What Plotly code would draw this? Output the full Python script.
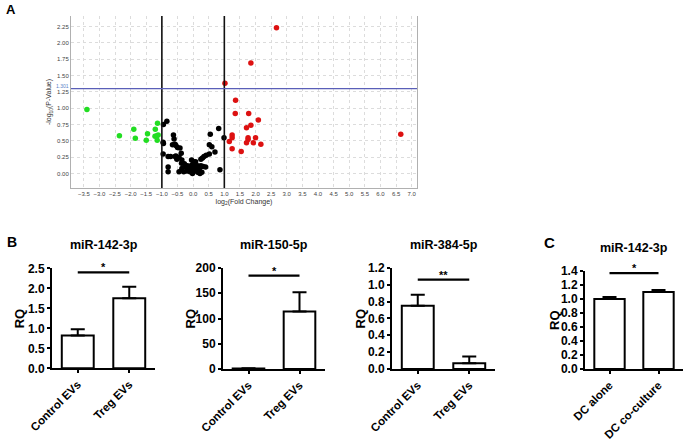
import plotly.graph_objects as go

W, H = 685, 440

# ---------------- Panel A: volcano data ----------------
up_x = [2.67, 1.85, 1.02, 1.36, 1.35, 1.78, 2.09, 1.85, 1.71, 1.25, 1.25, 1.16, 1.76, 2.00,
        1.76, 1.71, 1.93, 2.17, 1.25, 1.54, 6.65]
up_y = [2.23, 1.69, 1.38, 1.12, 0.92, 0.92, 0.82, 0.74, 0.70, 0.59, 0.55, 0.49, 0.55, 0.55,
        0.52, 0.47, 0.47, 0.45, 0.38, 0.34, 0.60]
down_x = [-3.40, -2.36, -1.90, -1.85, -1.46, -1.50, -1.21, -1.14, -1.22, -1.16, -1.12, -1.15]
down_y = [0.98, 0.58, 0.68, 0.54, 0.61, 0.51, 0.68, 0.77, 0.57, 0.58, 0.59, 0.51]
ns_x = [-0.95, -0.84, -0.96, -0.95, -0.96, -0.80, -0.80, -0.80, -0.63, -0.61, -0.66, -0.58,
        -0.55, -0.50, -0.42, -0.72, -0.58, -0.52, -0.55, -0.45, -0.38, -0.36, -0.37, -0.36,
        -0.45, -0.25, -0.20, -0.18, -0.15, -0.12, -0.10, -0.08, -0.05, -0.04, -0.02, 0.00,
        0.02, 0.02, 0.05, 0.05, 0.07, 0.08, 0.10, 0.12, 0.15, 0.15, 0.20, 0.18, 0.22, 0.25,
        0.25, 0.28, 0.30, 0.32, 0.35, 0.42, 0.40, 0.52, 0.60, 0.55, 0.52, 0.70, 0.82, 0.86,
        0.99, -0.02, -0.30, -0.28]
ns_y = [0.75, 0.80, 0.48, 0.46, 0.30, 0.26, 0.10, 0.03, 0.59, 0.53, 0.44, 0.45,
        0.43, 0.40, 0.39, 0.26, 0.26, 0.22, 0.27, 0.25, 0.31, 0.21, 0.16, 0.08,
        0.03, 0.11, 0.04, 0.12, 0.07, 0.10, 0.03, 0.05, 0.21, 0.13, 0.08, 0.11,
        0.18, 0.05, 0.13, 0.04, 0.09, 0.18, 0.10, 0.06, 0.12, 0.02, 0.08, 0.02, 0.00, 0.12,
        0.22, 0.02, 0.24, 0.11, 0.26, 0.28, 0.10, 0.44, 0.41, 0.60, 0.30, 0.33, 0.69, 0.06,
        0.55, 0.00, 0.03, 0.15]
fc_cut = [-1.0, 1.0]
p_cut = 1.301
x_ticks_volcano = [-3.5, -3.0, -2.5, -2.0, -1.5, -1.0, -0.5, 0.0, 0.5, 1.0, 1.5, 2.0, 2.5,
                   3.0, 3.5, 4.0, 4.5, 5.0, 5.5, 6.0, 6.5, 7.0]
y_ticks_volcano = [0.0, 0.25, 0.5, 0.75, 1.0, 1.25, 1.5, 1.75, 2.0, 2.25]

# ---------------- Panels B and C: bar data ----------------
b_categories = ["Control EVs", "Treg EVs"]
c_categories = ["DC alone", "DC co-culture"]
rq_142 = [0.82, 1.75]
err_142 = [0.155, 0.29]
rq_150 = [1.0, 114.0]
err_150 = [0.3, 38.0]
rq_384 = [0.75, 0.067]
err_384 = [0.13, 0.08]
rq_c142 = [1.0, 1.10]
err_c142 = [0.03, 0.03]
bar_titles = ["miR-142-3p", "miR-150-5p", "miR-384-5p", "miR-142-3p"]
y_max = [2.5, 200, 1.2, 1.4]
y_step = [0.5, 50, 0.2, 0.2]
y_fmt = [".1f", "d", ".1f", ".1f"]
sig_levels = [2.4, 185, 1.06, 1.37]
sig_marks = ["*", "*", "**", "*"]


def px(x0, x1):
    return [x0 / W, x1 / W]


def py(top, bottom):
    return [1 - bottom / H, 1 - top / H]


def label(text, x, y, size, **kw):
    d = dict(text=text, x=x / W, y=1 - y / H, xref="paper", yref="paper", showarrow=False,
             xanchor="center", yanchor="middle",
             font=dict(family="Liberation Sans, Arial", size=size, color="black"))
    d.update(kw)
    return d


fig = go.Figure()

# Volcano
fig.add_trace(go.Scatter(x=ns_x, y=ns_y, mode="markers", xaxis="x", yaxis="y",
                         marker=dict(color="#000000", size=5.5), showlegend=False))
fig.add_trace(go.Scatter(x=down_x, y=down_y, mode="markers", xaxis="x", yaxis="y",
                         marker=dict(color="#22dd22", size=5.5), showlegend=False))
fig.add_trace(go.Scatter(x=up_x, y=up_y, mode="markers", xaxis="x", yaxis="y",
                         marker=dict(color="#dd1111", size=5.5), showlegend=False))

vol_font = dict(family="Liberation Sans, Arial", size=6, color="#444444")
layout = dict(
    width=W, height=H, margin=dict(l=0, r=0, t=0, b=0, autoexpand=False),
    paper_bgcolor="white", plot_bgcolor="white", showlegend=False,
    xaxis=dict(domain=px(71, 417), range=[-3.91, 7.17], tickvals=x_ticks_volcano,
               tickformat=".1f", showgrid=True, gridcolor="#dcdcdc", gridwidth=1, griddash="dot",
               zeroline=False, showline=True, linecolor="#b0b0b0", linewidth=1,
               ticks="", tickfont=vol_font, anchor="y", automargin=False,
               title=dict(text="log<sub>2</sub>(Fold Change)", font=dict(family="Liberation Sans, Arial", size=7, color="#333"), standoff=2)),
    yaxis=dict(domain=py(16, 188), range=[-0.22, 2.41], tickvals=y_ticks_volcano,
               tickformat=".2f", showgrid=True, gridcolor="#dcdcdc", gridwidth=1, griddash="dot",
               zeroline=False, showline=True, linecolor="#b0b0b0", linewidth=1,
               mirror=True, ticks="", tickfont=vol_font, anchor="x", automargin=False,
               title=dict(text="-log<sub>10</sub>(P-Value)", font=dict(family="Liberation Sans, Arial", size=7, color="#333"), standoff=4)),
)

shapes = []
for xc in fc_cut:
    shapes.append(dict(type="line", xref="x", yref="y domain", x0=xc, x1=xc, y0=0, y1=1,
                       line=dict(color="#111111", width=1.6)))
shapes.append(dict(type="line", xref="x domain", yref="y", x0=0, x1=1, y0=p_cut, y1=p_cut,
                   line=dict(color="#5a5fb8", width=1.2)))

annotations = [
    label("<b>A</b>", 11, 9, 13),
    dict(text="1.301", x=71 / W, y=p_cut, xref="paper", yref="y", xanchor="right", yanchor="bottom",
         showarrow=False, yshift=-2, font=dict(family="Liberation Sans, Arial", size=5, color="#5a7fc8")),
    label("<b>B</b>", 12, 242, 14),
    label("<b>C</b>", 549, 242, 15),
]

panels = [
    (b_categories, rq_142, err_142, (52, 155), (268.3, 368.3), 19, 245),
    (b_categories, rq_150, err_150, (223, 325), (268, 369), 190, 245),
    (b_categories, rq_384, err_384, (392, 495), (267.8, 369), 360, 245),
    (c_categories, rq_c142, err_c142, (585, 683), (271, 369), 554, 248),
]

ytick_font = dict(family="Liberation Sans, Arial", size=12, color="black", weight="bold")
xtick_font = dict(family="Liberation Sans, Arial", size=11.5, color="black", weight="bold")
for i, (cats, vals, errs, (x0, x1), (t, b), rq_x, title_y) in enumerate(panels):
    k = i + 2
    xa, ya = f"x{k}", f"y{k}"
    fig.add_trace(go.Bar(x=cats, y=vals, xaxis=xa, yaxis=ya, width=0.62,
                         marker=dict(color="white", line=dict(color="black", width=2)),
                         error_y=dict(type="data", array=errs, arrayminus=[0] * len(errs),
                                      symmetric=False, color="black", thickness=2, width=7),
                         showlegend=False))
    layout[f"xaxis{k}"] = dict(domain=px(x0, x1), range=[-0.5, 1.5], anchor=ya, automargin=False,
                               showline=True, linecolor="black", linewidth=2,
                               ticks="outside", ticklen=3, tickwidth=2, tickcolor="black",
                               tickangle=-45, tickfont=xtick_font, showgrid=False, zeroline=False)
    layout[f"yaxis{k}"] = dict(domain=py(t, b), range=[0, y_max[i]], dtick=y_step[i], tick0=0,
                               tickformat=y_fmt[i], anchor=xa, automargin=False,
                               showline=True, linecolor="black", linewidth=2,
                               ticks="outside", ticklen=3, tickwidth=2, tickcolor="black",
                               tickfont=ytick_font, showgrid=False, zeroline=False)
    shapes.append(dict(type="line", xref=xa, yref=ya, x0=0, x1=1,
                       y0=sig_levels[i], y1=sig_levels[i], line=dict(color="black", width=2.2)))
    annotations.append(dict(text=f"<b>{sig_marks[i]}</b>", x=0.5, y=sig_levels[i], xref=xa, yref=ya,
                            xanchor="center", yanchor="bottom", showarrow=False, yshift=-3,
                            font=dict(family="Liberation Sans, Arial", size=11, color="black")))
    annotations.append(label(f"<b>{bar_titles[i]}</b>", (x0 + x1) / 2, title_y, 12.5))
    annotations.append(label("<b>RQ</b>", rq_x, (t + b) / 2, 13, textangle=-90))

layout["shapes"] = shapes
layout["annotations"] = annotations
fig.update_layout(**layout)
fig.write_html("out.html", config={"displayModeBar": False},
               post_script="document.body.style.margin='0px';document.body.style.overflow='hidden';")
